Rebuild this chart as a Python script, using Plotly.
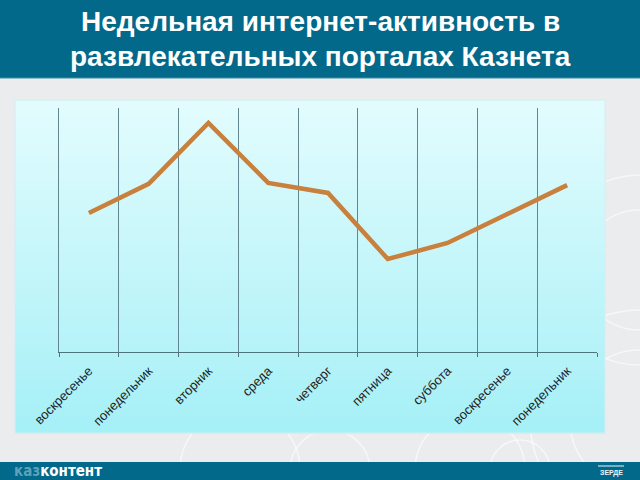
import plotly.graph_objects as go

# ---- data ----
days = ["воскресенье", "понедельник", "вторник", "среда", "четверг",
        "пятница", "суббота", "воскресенье", "понедельник"]
activity = [57.0, 68.9, 93.9, 69.3, 65.2, 38.1, 44.7, 56.6, 68.4]
title_lines = ["Недельная интернет-активность в", "развлекательных порталах Казнета"]

# ---- geometry helpers ----
W, H = 640, 480
ML, MR, MT, MB = 59, 43, 108, 128
PW, PH = W - ML - MR, H - MT - MB


def px(x):
    return (x - ML) / PW


def py(y):
    return (H - MB - y) / PH


xs = list(range(len(days)))

fig = go.Figure()
fig.add_trace(go.Scatter(
    x=xs, y=activity, mode="lines",
    line=dict(color="#c8803c", width=4.5),
    hoverinfo="skip", showlegend=False,
))

shapes = []
# background decorative arcs
for cx, cy, r in [(640, 270, 60), (640, 270, 95), (640, 420, 70), (640, 420, 110),
                  (240, 470, 60), (330, 470, 40), (470, 470, 55), (520, 470, 30)]:
    shapes.append(dict(type="circle", xref="paper", yref="paper",
                       x0=px(cx - r), x1=px(cx + r), y0=py(cy + r), y1=py(cy - r),
                       line=dict(color="rgba(255,255,255,0.6)", width=1.5),
                       fillcolor="rgba(0,0,0,0)", layer="below"))

# gradient panel
top, bot, left, right = 100, 433, 15, 605
n = 37
c0, c1 = (226, 252, 253), (166, 240, 247)
for i in range(n):
    t = i / (n - 1)
    col = tuple(round(c0[k] + (c1[k] - c0[k]) * t) for k in range(3))
    y0 = top + (bot - top) * i / n
    y1 = top + (bot - top) * (i + 1) / n
    shapes.append(dict(type="rect", xref="paper", yref="paper",
                       x0=px(left), x1=px(right), y0=py(y1 + 0.5), y1=py(y0),
                       fillcolor="rgb(%d,%d,%d)" % col, line=dict(width=0), layer="below"))
shapes.append(dict(type="rect", xref="paper", yref="paper",
                   x0=px(left), x1=px(right), y0=py(bot), y1=py(top),
                   fillcolor="rgba(0,0,0,0)", line=dict(color="#d4eef2", width=1), layer="below"))

# title band
shapes.append(dict(type="rect", xref="paper", yref="paper",
                   x0=px(0), x1=px(W), y0=py(78), y1=py(0),
                   fillcolor="#02698a", line=dict(width=0), layer="below"))
shapes.append(dict(type="line", xref="paper", yref="paper",
                   x0=px(0), x1=px(W), y0=py(78), y1=py(78),
                   line=dict(color="#3f8ea8", width=1), layer="below"))
# footer band
shapes.append(dict(type="rect", xref="paper", yref="paper",
                   x0=px(0), x1=px(W), y0=py(H), y1=py(462),
                   fillcolor="#02698a", line=dict(width=0), layer="below"))
shapes.append(dict(type="line", xref="paper", yref="paper",
                   x0=px(598), x1=px(624), y0=py(466), y1=py(466),
                   line=dict(color="#9fc9d6", width=1.5), layer="below"))

title_font = dict(family="Liberation Sans, Arial, sans-serif", size=28, color="white")
annotations = [
    dict(text="<b>%s</b>" % title_lines[0], xref="paper", yref="paper",
         x=px(320), y=py(22), xanchor="center", yanchor="middle", showarrow=False,
         font=title_font),
    dict(text="<b>%s</b>" % title_lines[1], xref="paper", yref="paper",
         x=px(320), y=py(57), xanchor="center", yanchor="middle", showarrow=False,
         font=title_font),
    dict(text="<b><span style='color:#5aa3bb'>каз</span>контент</b>", xref="paper", yref="paper",
         x=px(12), y=py(471), xanchor="left", yanchor="middle", showarrow=False,
         font=dict(family="DejaVu Sans Condensed, Liberation Sans Narrow, sans-serif", size=15, color="white")),
    dict(text="<b>ЗЕРДЕ</b>", xref="paper", yref="paper",
         x=px(611), y=py(473), xanchor="center", yanchor="middle", showarrow=False,
         font=dict(family="Liberation Sans, Arial, sans-serif", size=7, color="#e8f4f8")),
]

fig.update_layout(
    width=W, height=H,
    margin=dict(l=ML, r=MR, t=MT, b=MB),
    paper_bgcolor="#ebeced",
    plot_bgcolor="rgba(0,0,0,0)",
    shapes=shapes,
    annotations=annotations,
    showlegend=False,
    xaxis=dict(
        range=[-0.5, len(days) - 0.5],
        tickmode="array", tickvals=xs, ticktext=days,
        tickangle=-45, ticks="", showgrid=False, zeroline=False,
        showline=True, linecolor="#4f747c", linewidth=1.4,
        ticklabelstandoff=5,
        tickfont=dict(family="Liberation Sans, Arial, sans-serif", size=13, color="#1e1e1e"),
        minor=dict(tickmode="array", tickvals=[i - 0.5 for i in xs] + [len(days) - 0.5],
                   showgrid=True, gridcolor="#628790", gridwidth=1.4,
                   ticks="outside", ticklen=4, tickcolor="#4f747c", tickwidth=1.4),
        fixedrange=True,
    ),
    yaxis=dict(
        range=[0, 100], showgrid=False, zeroline=False, showticklabels=False,
        ticks="", showline=True, linecolor="#628790", linewidth=1.4,
        fixedrange=True,
    ),
)

fig.write_html("out.html")
